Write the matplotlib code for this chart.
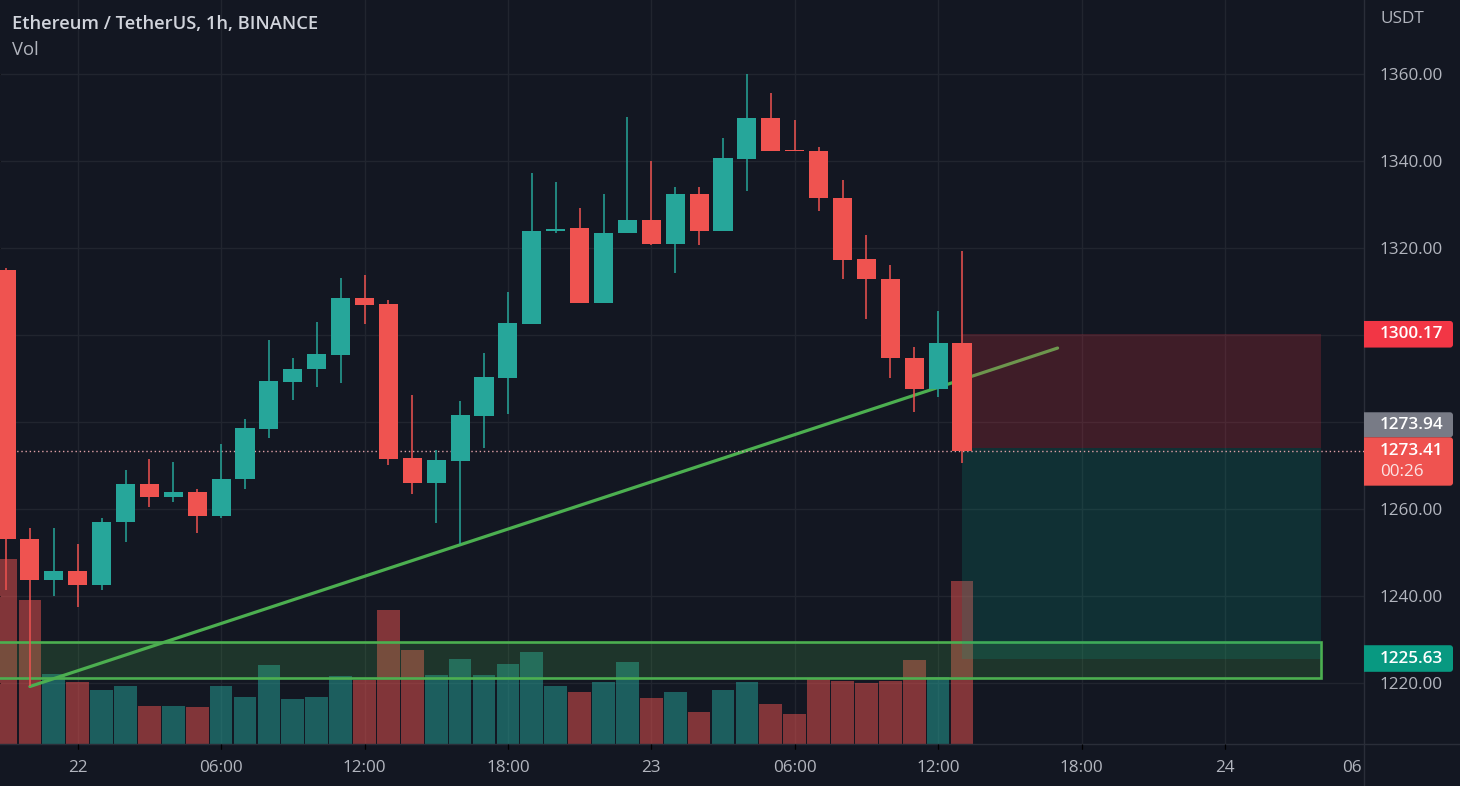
import matplotlib
matplotlib.use("Agg")
import matplotlib.pyplot as plt
from matplotlib.patches import Rectangle, FancyBboxPatch
from matplotlib.lines import Line2D
import matplotlib.transforms as mtransforms

# ---------------- data ----------------
# hour offsets relative to 22 00:00 (1h candles)
hours = list(range(-3, 38))
opens = [1315.0, 1253.0, 1243.7, 1245.7, 1242.5, 1256.9, 1265.7, 1262.8, 1263.8, 1258.5,
         1266.8, 1278.4, 1289.3, 1292.1, 1295.4, 1308.5, 1307.2, 1271.7, 1266.0, 1271.1,
         1281.4, 1290.2, 1302.5, 1323.8, 1324.5, 1307.3, 1323.4, 1326.5, 1321.0, 1332.3,
         1323.9, 1340.4, 1349.9, 1342.3, 1342.3, 1331.6, 1317.4, 1312.8, 1294.6, 1287.5,
         1298.1]
highs = [1315.5, 1255.6, 1255.6, 1252.0, 1257.9, 1269.0, 1271.5, 1270.9, 1264.6, 1275.0,
         1280.7, 1298.9, 1294.8, 1303.1, 1313.0, 1313.9, 1308.0, 1286.2, 1273.5, 1284.9,
         1295.9, 1310.0, 1337.2, 1335.1, 1329.1, 1332.4, 1350.0, 1340.1, 1334.0, 1334.1,
         1345.2, 1360.0, 1355.6, 1349.4, 1343.3, 1335.6, 1323.0, 1316.0, 1297.2, 1305.5,
         1319.2]
lows = [1241.4, 1219.2, 1239.9, 1237.5, 1241.4, 1252.5, 1260.4, 1261.5, 1254.5, 1257.9,
        1264.6, 1276.3, 1285.1, 1288.1, 1288.9, 1302.5, 1270.2, 1263.5, 1256.8, 1251.9,
        1274.1, 1281.8, 1302.5, 1323.4, 1307.3, 1307.3, 1323.4, 1320.7, 1314.3, 1320.7,
        1323.9, 1333.0, 1342.2, 1342.2, 1328.5, 1312.9, 1303.7, 1290.1, 1282.2, 1285.8,
        1270.6]
closes = [1253.0, 1243.7, 1245.7, 1242.5, 1257.1, 1265.7, 1262.8, 1263.8, 1258.5, 1266.9,
          1278.6, 1289.4, 1292.2, 1295.6, 1308.4, 1306.9, 1271.5, 1266.0, 1271.3, 1281.6,
          1290.3, 1302.8, 1323.9, 1324.3, 1307.3, 1323.4, 1326.5, 1321.0, 1332.3, 1323.9,
          1340.7, 1349.9, 1342.2, 1342.2, 1331.5, 1317.3, 1312.8, 1294.6, 1287.5, 1298.1,
          1273.41]
volumes = [46.2, 36.0, 17.4, 15.5, 13.4, 14.5, 9.5, 9.5, 9.3, 14.5,
           11.8, 19.7, 11.2, 11.8, 16.9, 16.0, 33.5, 23.4, 17.2, 21.2,
           17.2, 20.1, 23.1, 14.5, 12.9, 15.5, 20.5, 11.5, 13.0, 8.0,
           13.6, 15.5, 10.0, 7.4, 16.6, 15.7, 15.3, 15.7, 21.0, 16.8,
           40.8]

time_ticks = [0, 6, 12, 18, 24, 30, 36, 42, 48]
time_labels = ["22", "06:00", "12:00", "18:00", "23", "06:00", "12:00", "18:00", "24"]
extra_time_label = "06"
price_ticks = [1220, 1240, 1260, 1280, 1300, 1320, 1340, 1360]
price_labels = ["1220.00", "1240.00", "1260.00", "", "", "1320.00", "1340.00", "1360.00"]

# drawings
trend_x = [-2, 41]
trend_y = [1219.2, 1297.0]
zone_x = [-6, 52]
zone_y = [1221.15, 1229.36]
pos_x = [37, 52]
pos_entry = 1273.94
pos_stop = 1300.17
pos_target = 1225.63
last_price = 1273.41
countdown = "00:26"

# ---------------- style ----------------
BG = "#131722"
UP = "#26a69a"
DN = "#ef5350"
GRID = "#21252f"
TXT = "#b2b5be"
FONT = "Open Sans"
FS = 12.3

W, H = 1460, 786
fig = plt.figure(figsize=(W / 100, H / 100), dpi=100, facecolor=BG)
plot_right = 1364
plot_bottom = 744
rect = [0, (H - plot_bottom) / H, plot_right / W, plot_bottom / H]

ax_bg = fig.add_axes(rect, zorder=0)
axv = fig.add_axes(rect, zorder=1, sharex=ax_bg)
ax = fig.add_axes(rect, zorder=2, sharex=ax_bg, sharey=ax_bg)

x0_px, dx_px = 77.7, 23.9
ax_bg.set_xlim(-x0_px / dx_px, (plot_right - x0_px) / dx_px)
ax_bg.set_ylim(1205.98, 1377.01)
axv.set_ylim(0, plot_bottom / 4.0)

ax_bg.set_facecolor(BG)
for a in (axv, ax):
    a.patch.set_alpha(0)
    a.set_xticks([])
    a.set_yticks([])
    a.tick_params(labelbottom=False, labelleft=False)
for a in (ax_bg, axv, ax):
    for s in a.spines.values():
        s.set_visible(False)

ax_bg.set_xticks(time_ticks)
ax_bg.set_xticklabels(time_labels, fontfamily=FONT, fontsize=FS, color=TXT)
ax_bg.set_yticks(price_ticks)
ax_bg.set_yticklabels(price_labels, fontfamily=FONT, fontsize=FS, color=TXT)
ax_bg.yaxis.tick_right()
ax_bg.tick_params(axis="y", length=0, pad=11.5)
ax_bg.tick_params(axis="x", length=0, pad=11.5)
ax_bg.grid(True, color=GRID, lw=1)

# extra last time label, pushed inside the plot edge
trans_xl = mtransforms.blended_transform_factory(ax_bg.transData, ax_bg.transAxes)
ax_bg.text(ax_bg.get_xlim()[1] - 0.08, -0.0215, extra_time_label, transform=trans_xl,
           ha="right", va="top", fontfamily=FONT, fontsize=FS, color=TXT)

# ---------------- volume ----------------
vcol = [(UP if c >= o else DN) for o, c in zip(opens, closes)]
axv.bar(hours, volumes, width=0.95, color=vcol, alpha=0.5, linewidth=0)

# ---------------- drawings below candles ----------------
ax.plot(trend_x, trend_y, color="#4caf50", lw=2.3, solid_capstyle="round", zorder=2)

ax.add_patch(Rectangle((zone_x[0], zone_y[0]), zone_x[1] - zone_x[0], zone_y[1] - zone_y[0],
                       facecolor="#4caf50", alpha=0.2, edgecolor="none", zorder=3))
ax.add_patch(Rectangle((zone_x[0], zone_y[0]), zone_x[1] - zone_x[0], zone_y[1] - zone_y[0],
                       facecolor="none", edgecolor="#4caf50", lw=1.9, zorder=3.1))

# position tool (short)
ax.add_patch(Rectangle((pos_x[0], pos_entry), pos_x[1] - pos_x[0], pos_stop - pos_entry,
                       facecolor="#f23645", alpha=0.2, edgecolor="none", zorder=4))
ax.add_patch(Rectangle((pos_x[0], pos_target), pos_x[1] - pos_x[0], pos_entry - pos_target,
                       facecolor="#089981", alpha=0.2, edgecolor="none", zorder=4))

# last price dotted line
ax.axhline(last_price, color="#e0a0a6", lw=1, ls=(0, (1, 2)), zorder=4.5)

# ---------------- candles ----------------
for h, o, hi, lo, c in zip(hours, opens, highs, lows, closes):
    col = UP if c > o else DN
    ax.vlines(h, lo, hi, color=col, lw=1.1, zorder=5)
    bottom = min(o, c)
    height = max(abs(c - o), 0.25)
    ax.bar(h, height, bottom=bottom, width=0.8, color=col, linewidth=0, zorder=6)

# ---------------- separators ----------------
fig.add_artist(Line2D([plot_right / W] * 2, [0, 1], transform=fig.transFigure,
                      color="#2a2e39", lw=1))
fig.add_artist(Line2D([0, 1], [(H - plot_bottom) / H] * 2, transform=fig.transFigure,
                      color="#2a2e39", lw=1))

# ---------------- right price labels ----------------
ax_r = fig.add_axes([plot_right / W, (H - plot_bottom) / H, (W - plot_right) / W, plot_bottom / H],
                    zorder=3, sharey=ax_bg)
ax_r.patch.set_alpha(0)
ax_r.set_xlim(0, W - plot_right)
ax_r.axis("off")
px = 1 / 4.35  # price units per pixel


def label_box(y0, y1, color):
    p = FancyBboxPatch((-6, y0), 95, y1 - y0, boxstyle="round,pad=0,rounding_size=3",
                       mutation_aspect=px, facecolor=color, edgecolor="none", clip_on=True)
    ax_r.add_patch(p)


label_box(pos_stop - 13.3 * px, pos_stop + 13.3 * px, "#f23645")
ax_r.text(16, pos_stop, f"{pos_stop:.2f}", color="white", fontfamily=FONT, fontsize=FS,
          fontweight="semibold", va="center", ha="left")

cur_top = last_price + 13.4 * px
label_box(cur_top, cur_top + 25 * px, "#787b86")
ax_r.text(16, cur_top + 12.5 * px, f"{pos_entry:.2f}", color="white", fontfamily=FONT,
          fontsize=FS, fontweight="semibold", va="center", ha="left")

label_box(cur_top - 48.4 * px, cur_top, "#ef5350")
ax_r.text(16, last_price, f"{last_price:.2f}", color="white", fontfamily=FONT, fontsize=FS,
          fontweight="semibold", va="center", ha="left")
ax_r.text(16, last_price - 21.5 * px, countdown, color="#fbe3e4", fontfamily=FONT, fontsize=FS,
          va="center", ha="left")

label_box(pos_target - 13.3 * px, pos_target + 13.3 * px, "#089981")
ax_r.text(16, pos_target, f"{pos_target:.2f}", color="white", fontfamily=FONT, fontsize=FS,
          fontweight="semibold", va="center", ha="left")

fig.text(1380 / W, 1 - 19 / H, "USDT", color=TXT, fontfamily=FONT, fontsize=12.3,
         va="center", ha="left")

# ---------------- title ----------------
fig.text(12 / W, 1 - 24 / H, "Ethereum / TetherUS, 1h, BINANCE", color="#d1d4dc",
         fontfamily=FONT, fontsize=13.2, fontweight="semibold", va="center", ha="left")
fig.text(12 / W, 1 - 50 / H, "Vol", color="#b2b5be", fontfamily=FONT, fontsize=13.2,
         va="center", ha="left")

fig.savefig("out.png", dpi=100, facecolor=BG)
